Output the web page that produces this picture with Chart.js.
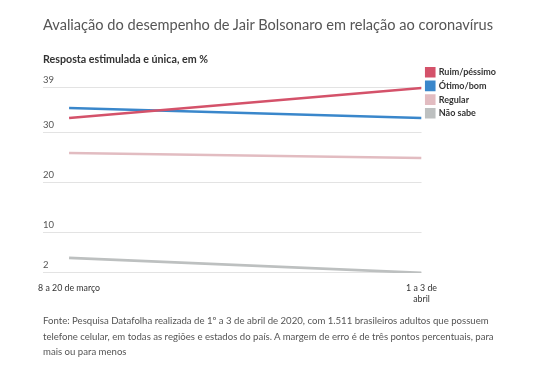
<!DOCTYPE html>
<html>
<head>
<meta charset="utf-8">
<script src="https://cdn.jsdelivr.net/npm/chart.js@4"></script>
<style>
  body { margin: 0; background: #fff; font-family: Lato, sans-serif; }
  #wrap { position: relative; width: 552px; height: 376px; overflow: hidden; }
  #titulo { position: absolute; left: 43px; top: 16px; font-size: 14.6px; color: #555; white-space: nowrap; }
  #subtitulo { position: absolute; left: 43px; top: 52px; font-size: 10.7px; font-weight: bold; color: #333; white-space: nowrap; }
  #fonte { position: absolute; left: 43px; top: 313px; font-size: 9.6px; line-height: 15.5px; color: #555; white-space: nowrap; }
  #grafico { position: absolute; left: 0; top: 0; }
</style>
</head>
<body>
<div id="wrap">
  <canvas id="grafico" width="552" height="316"></canvas>
  <div id="titulo">Avaliação do desempenho de Jair Bolsonaro em relação ao coronavírus</div>
  <div id="subtitulo">Resposta estimulada e única, em %</div>
  <div id="fonte">Fonte: Pesquisa Datafolha realizada de 1º a 3 de abril de 2020, com 1.511 brasileiros adultos que possuem<br>telefone celular, em todas as regiões e estados do país. A margem de erro é de três pontos percentuais, para<br>mais ou para menos</div>
</div>
<script>
const periodos = [["8 a 20 de março"], ["1 a 3 de", "abril"]];
const ruimPessimo = [33, 39];
const otimoBom = [35, 33];
const regular = [26, 25];
const naoSabe = [5, 2];
const yTicks = [2, 10, 20, 30, 39];

const series = [
  { label: "Ruim/péssimo", values: ruimPessimo, color: "#d4526a" },
  { label: "Ótimo/bom", values: otimoBom, color: "#3a87cb" },
  { label: "Regular", values: regular, color: "#e2bcc1" },
  { label: "Não sabe", values: naoSabe, color: "#bdc0c0" },
];

new Chart(document.getElementById("grafico"), {
  type: "line",
  data: {
    datasets: series.map((s) => ({
      label: s.label,
      data: s.values.map((v, i) => ({ x: i, y: v })),
      borderColor: s.color,
      backgroundColor: s.color,
      borderWidth: 2.6,
      pointRadius: 0,
      tension: 0,
    })),
  },
  options: {
    responsive: false,
    animation: false,
    layout: { padding: { top: 63, left: 43, right: 46, bottom: 2 } },
    plugins: {
      tooltip: { enabled: false },
      legend: {
        position: "right",
        align: "start",
        labels: {
          boxWidth: 8,
          boxHeight: 8,
          padding: 4.7,
          color: "#333",
          font: { family: "Lato", size: 9, weight: "bold" },
        },
      },
    },
    scales: {
      x: {
        type: "linear",
        min: -0.074,
        max: 1,
        afterBuildTicks: (scale) => {
          scale.ticks = periodos.map((p, i) => ({ value: i }));
        },
        ticks: {
          callback: (v) => periodos[v],
          color: "#333",
          font: { family: "Lato", size: 8.8 },
          padding: 10,
          maxRotation: 0,
          autoSkip: false,
        },
        grid: { display: false, drawTicks: false },
        border: { display: false },
      },
      y: {
        min: 2,
        max: 44,
        afterBuildTicks: (scale) => {
          scale.ticks = yTicks.map((v) => ({ value: v }));
        },
        afterFit: (scale) => {
          scale.width = 0;
        },
        ticks: {
          mirror: true,
          padding: 0,
          labelOffset: -8,
          color: "#555",
          font: { family: "Lato", size: 9.5 },
        },
        grid: { color: "#e3e3e3", lineWidth: 1, drawTicks: false },
        border: { display: false },
      },
    },
  },
});
</script>
</body>
</html>
